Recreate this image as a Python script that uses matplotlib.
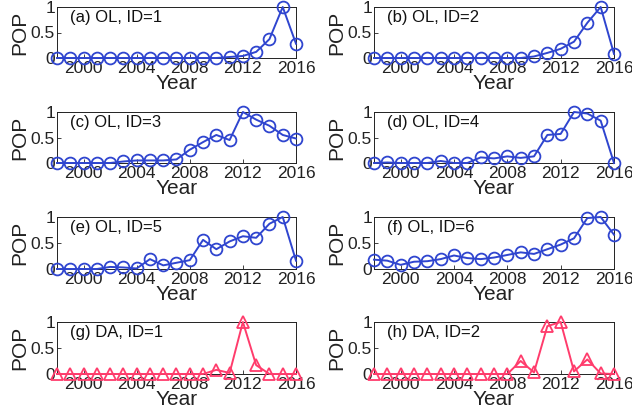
import matplotlib
matplotlib.use("Agg")
import matplotlib.pyplot as plt
import numpy as np

plt.rcParams['font.family'] = ['Liberation Sans', 'DejaVu Sans']

years = list(range(1998, 2017))

ol_id1 = [0, 0, 0, 0, 0, 0, 0, 0, 0, 0, 0, 0, 0, 0.02, 0.04, 0.12, 0.37, 1.0, 0.28]
ol_id2 = [0, 0, 0, 0, 0, 0, 0, 0, 0, 0, 0, 0, 0.03, 0.10, 0.18, 0.32, 0.69, 1.0, 0.08]
ol_id3 = [0, 0, 0, 0, 0, 0.03, 0.05, 0.05, 0.05, 0.07, 0.26, 0.41, 0.55, 0.45, 1.0, 0.85, 0.73, 0.55, 0.48]
ol_id4 = [0, 0.01, 0, 0, 0, 0.04, 0, 0, 0.11, 0.09, 0.13, 0.10, 0.13, 0.55, 0.57, 1.0, 0.97, 0.83, 0]
ol_id5 = [0, 0, 0, 0, 0.04, 0.03, 0.01, 0.19, 0.07, 0.12, 0.17, 0.56, 0.38, 0.53, 0.63, 0.60, 0.87, 1.0, 0.16]
ol_id6 = [0.18, 0.16, 0.08, 0.14, 0.15, 0.19, 0.26, 0.21, 0.19, 0.22, 0.27, 0.32, 0.29, 0.38, 0.47, 0.59, 0.98, 1.0, 0.66]
da_id1 = [0, 0, 0, 0, 0, 0, 0, 0, 0, 0, 0, 0, 0.08, 0.02, 1.0, 0.17, 0, 0, 0]
da_id2 = [0, 0, 0, 0, 0, 0, 0, 0, 0, 0, 0, 0.25, 0.03, 0.92, 1.0, 0.05, 0.28, 0.01, 0]

panels = [
    ("(a) OL, ID=1", ol_id1, "ol"),
    ("(b) OL, ID=2", ol_id2, "ol"),
    ("(c) OL, ID=3", ol_id3, "ol"),
    ("(d) OL, ID=4", ol_id4, "ol"),
    ("(e) OL, ID=5", ol_id5, "ol"),
    ("(f) OL, ID=6", ol_id6, "ol"),
    ("(g) DA, ID=1", da_id1, "da"),
    ("(h) DA, ID=2", da_id2, "da"),
]

xticks = [2000, 2004, 2008, 2012, 2016]
yticks = [0, 0.5, 1]
yticklabels = ["0", "0.5", "1"]

W, H = 632, 420
fig = plt.figure(figsize=(W / 100, H / 100), dpi=100)

cols_x = [(57, 296), (374, 614)]
rows_y = [(7, 58), (112, 163), (217, 269), (322, 374)]

blue = "#2f45cf"
red = "#ff3c6c"

for i, (label, vals, kind) in enumerate(panels):
    r, c = divmod(i, 2)
    x0, x1 = cols_x[c]
    y0, y1 = rows_y[r]
    ax = fig.add_axes([x0 / W, 1 - y1 / H, (x1 - x0) / W, (y1 - y0) / H])
    if kind == "ol":
        ax.plot(years, vals, color=blue, lw=1.4, marker='o', ms=8.5,
                mfc='none', mec=blue, mew=1.3, clip_on=False, zorder=3)
    else:
        ax.plot(years, vals, color=red, lw=1.4, marker='^', ms=9,
                mfc='none', mec=red, mew=1.3, clip_on=False, zorder=3)
    ax.set_xlim(1998, 2016)
    ax.set_ylim(0, 1)
    ax.set_xticks(xticks)
    ax.set_yticks(yticks)
    ax.set_yticklabels(yticklabels)
    ax.tick_params(direction='in', length=3, width=0.6, labelsize=12.5,
                   top=False, right=False, pad=2, colors='#222222')
    ax.tick_params(axis='y', pad=1.5)
    for s in ax.spines.values():
        s.set_linewidth(0.7)
        s.set_color('#222222')
    ax.set_xlabel("Year", fontsize=15, labelpad=-1, color='#222222')
    ax.set_ylabel("POP", fontsize=15, labelpad=1, color='#222222')
    ax.text(0.055, 0.79, label, transform=ax.transAxes, fontsize=12,
            va='center', ha='left', color='#111111')

fig.savefig("out.png", dpi=100)
